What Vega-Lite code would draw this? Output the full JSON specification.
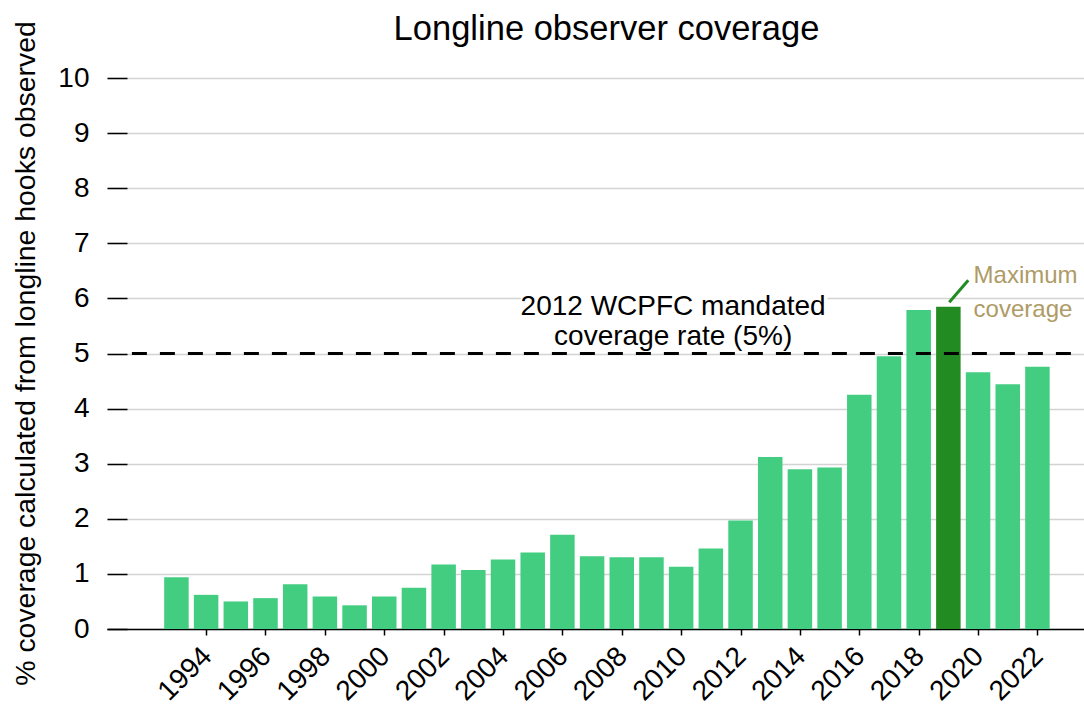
{
  "$schema": "https://vega.github.io/schema/vega-lite/v6.json",
  "width": 977,
  "height": 551,
  "autosize": {"type": "none"},
  "padding": {"left": 107, "top": 78, "right": 0, "bottom": 77},
  "background": "white",
  "config": {"font": "Liberation Sans", "view": {"stroke": null}},
  "title": {
    "text": "Longline observer coverage",
    "fontSize": 34.5,
    "fontWeight": "normal",
    "color": "black",
    "anchor": "middle",
    "dx": 11,
    "offset": -27
  },
  "datasets": {
    "coverage": [
      {"year": 1993, "value": 0.94},
      {"year": 1994, "value": 0.62},
      {"year": 1995, "value": 0.50},
      {"year": 1996, "value": 0.56},
      {"year": 1997, "value": 0.81},
      {"year": 1998, "value": 0.59},
      {"year": 1999, "value": 0.43},
      {"year": 2000, "value": 0.59},
      {"year": 2001, "value": 0.75},
      {"year": 2002, "value": 1.17},
      {"year": 2003, "value": 1.07},
      {"year": 2004, "value": 1.26},
      {"year": 2005, "value": 1.39},
      {"year": 2006, "value": 1.71},
      {"year": 2007, "value": 1.32},
      {"year": 2008, "value": 1.30},
      {"year": 2009, "value": 1.30},
      {"year": 2010, "value": 1.13},
      {"year": 2011, "value": 1.46},
      {"year": 2012, "value": 1.97},
      {"year": 2013, "value": 3.12},
      {"year": 2014, "value": 2.90},
      {"year": 2015, "value": 2.93},
      {"year": 2016, "value": 4.25},
      {"year": 2017, "value": 4.95},
      {"year": 2018, "value": 5.79},
      {"year": 2019, "value": 5.85},
      {"year": 2020, "value": 4.66},
      {"year": 2021, "value": 4.44},
      {"year": 2022, "value": 4.76}
    ],
    "threshold": [
      {"year": 1991.5, "year2": 2023.4, "value": 5}
    ],
    "labelbox": [
      {"year": 2004.6, "year2": 2014.93, "value": 5.25, "value2": 6.25}
    ],
    "mandate": [
      {"year": 2009.73, "value": 5.70, "label": "2012 WCPFC mandated"},
      {"year": 2009.73, "value": 5.15, "label": "coverage rate (5%)"}
    ],
    "maxnote": [
      {"year": 2019.85, "value": 6.28, "label": "Maximum"},
      {"year": 2019.85, "value": 5.66, "label": "coverage"}
    ],
    "connector": [
      {"year": 2019.03, "value": 5.93, "year2": 2019.67, "value2": 6.33}
    ]
  },
  "layer": [
    {
      "data": {"name": "coverage"},
      "mark": {"type": "bar", "size": 24.5},
      "encoding": {
        "x": {
          "field": "year",
          "type": "quantitative",
          "scale": {"domain": [1990.83, 2023.4], "nice": false, "zero": false},
          "axis": {
            "title": null,
            "values": [1994, 1996, 1998, 2000, 2002, 2004, 2006, 2008, 2010, 2012, 2014, 2016, 2018, 2020, 2022],
            "format": "d",
            "labelAngle": -45,
            "labelFontSize": 28,
            "labelColor": "black",
            "labelOffset": -9,
            "labelPadding": 7,
            "labelOverlap": false,
            "labelFlush": false,
            "labelBound": false,
            "tickSize": 6,
            "tickColor": "black",
            "tickWidth": 1.5,
            "domainColor": "black",
            "domainWidth": 1.5,
            "grid": false
          }
        },
        "y": {
          "field": "value",
          "type": "quantitative",
          "scale": {"domain": [0, 10], "nice": false},
          "axis": {
            "title": "% coverage calculated from longline hooks observed",
            "values": [0, 1, 2, 3, 4, 5, 6, 7, 8, 9, 10],
            "tickSize": -20,
            "tickColor": "black",
            "tickWidth": 1.5,
            "domain": false,
            "grid": true,
            "gridColor": "#d3d3d3",
            "gridWidth": 1.5,
            "labelFontSize": 28,
            "labelColor": "black",
            "labelPadding": 38,
            "titleFontSize": 28.4,
            "titleFontWeight": "normal",
            "titleColor": "black",
            "titleAngle": 270,
            "titleBaseline": "alphabetic",
            "titleX": -73,
            "titleY": 275
          }
        },
        "color": {
          "condition": {"test": "datum.year === 2019", "value": "#228B22"},
          "value": "#43CD80"
        }
      }
    },
    {
      "data": {"name": "labelbox"},
      "mark": {"type": "rect", "color": "white"},
      "encoding": {
        "x": {"field": "year", "type": "quantitative"},
        "x2": {"field": "year2"},
        "y": {"field": "value", "type": "quantitative"},
        "y2": {"field": "value2"}
      }
    },
    {
      "data": {"name": "threshold"},
      "mark": {"type": "rule", "color": "black", "strokeWidth": 3, "strokeDash": [15, 13]},
      "encoding": {
        "x": {"field": "year", "type": "quantitative"},
        "x2": {"field": "year2"},
        "y": {"field": "value", "type": "quantitative"}
      }
    },
    {
      "data": {"name": "mandate"},
      "mark": {"type": "text", "fontSize": 28, "color": "black", "align": "center", "baseline": "alphabetic"},
      "encoding": {
        "x": {"field": "year", "type": "quantitative"},
        "y": {"field": "value", "type": "quantitative"},
        "text": {"field": "label"}
      }
    },
    {
      "data": {"name": "maxnote"},
      "mark": {"type": "text", "fontSize": 24, "color": "#AE9B66", "align": "left", "baseline": "alphabetic"},
      "encoding": {
        "x": {"field": "year", "type": "quantitative"},
        "y": {"field": "value", "type": "quantitative"},
        "text": {"field": "label"}
      }
    },
    {
      "data": {"name": "connector"},
      "mark": {"type": "rule", "color": "#228B22", "strokeWidth": 3},
      "encoding": {
        "x": {"field": "year", "type": "quantitative"},
        "y": {"field": "value", "type": "quantitative"},
        "x2": {"field": "year2"},
        "y2": {"field": "value2"}
      }
    }
  ]
}
